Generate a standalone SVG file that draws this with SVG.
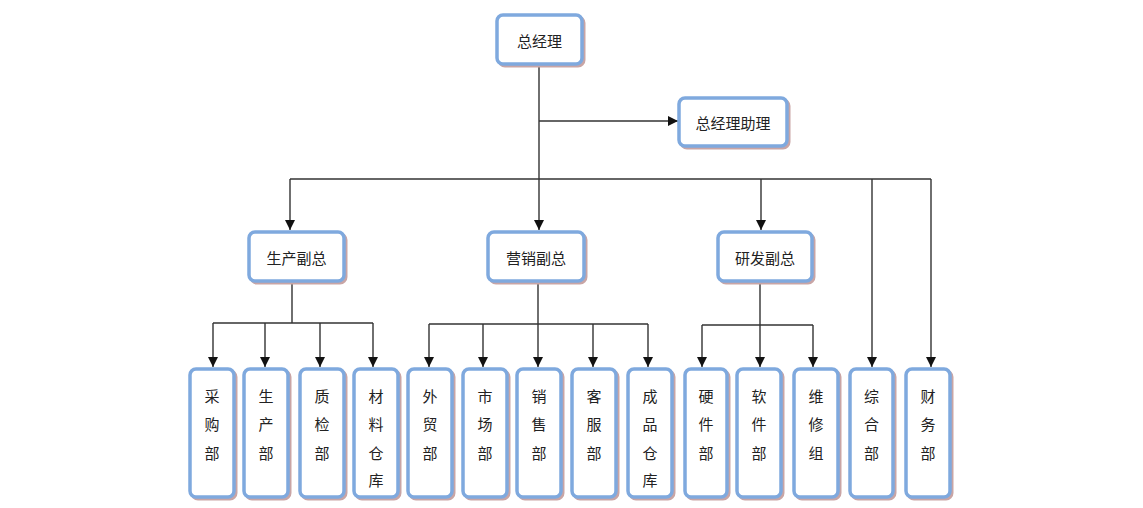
<svg xmlns="http://www.w3.org/2000/svg" width="1143" height="508" viewBox="0 0 1143 508">
<style>
.sh{fill:#c9a5a5;stroke:#c9a5a5;stroke-width:3}
.bx{fill:#ffffff;stroke:#7fa9de;stroke-width:3.5}
.t{font-family:"Noto Sans CJK SC","Noto Sans",sans-serif;font-size:15px;fill:#222;text-anchor:middle;dominant-baseline:central}
.ln{fill:none;stroke:#333;stroke-width:1.4}
</style>
<defs>
<marker id="ar" viewBox="0 0 10 10" refX="10" refY="5" markerWidth="10" markerHeight="10" markerUnits="userSpaceOnUse" orient="auto">
<path d="M0,0 L10,5 L0,10 z" fill="#111"/>
</marker>
</defs>
<g id="connectors">
<path class="ln" d="M539,64 V230" marker-end="url(#ar)"/>
<path class="ln" d="M539,121 H678" marker-end="url(#ar)"/>
<path class="ln" d="M290,179 H931"/>
<path class="ln" d="M290,179 V230" marker-end="url(#ar)"/>
<path class="ln" d="M761,179 V230" marker-end="url(#ar)"/>
<path class="ln" d="M872,179 V367" marker-end="url(#ar)"/>
<path class="ln" d="M931,179 V367" marker-end="url(#ar)"/>
<path class="ln" d="M292,283 V323"/>
<path class="ln" d="M213,323 H373"/>
<path class="ln" d="M213,323 V367" marker-end="url(#ar)"/>
<path class="ln" d="M265,323 V367" marker-end="url(#ar)"/>
<path class="ln" d="M320,323 V367" marker-end="url(#ar)"/>
<path class="ln" d="M373,323 V367" marker-end="url(#ar)"/>
<path class="ln" d="M538,283 V367" marker-end="url(#ar)"/>
<path class="ln" d="M429,324 H648"/>
<path class="ln" d="M429,324 V367" marker-end="url(#ar)"/>
<path class="ln" d="M483,324 V367" marker-end="url(#ar)"/>
<path class="ln" d="M593,324 V367" marker-end="url(#ar)"/>
<path class="ln" d="M648,324 V367" marker-end="url(#ar)"/>
<path class="ln" d="M760,283 V367" marker-end="url(#ar)"/>
<path class="ln" d="M702,325 H813"/>
<path class="ln" d="M702,325 V367" marker-end="url(#ar)"/>
<path class="ln" d="M813,325 V367" marker-end="url(#ar)"/>
</g>
<g id="n_zjl"><rect class="sh" x="499" y="17" width="85" height="49" rx="6"/><rect class="bx" x="497" y="15" width="85" height="49" rx="6"/><text class="t" x="539.5" y="40">总经理</text></g>
<g id="n_zl"><rect class="sh" x="681" y="100" width="108" height="48" rx="6"/><rect class="bx" x="679" y="98" width="108" height="48" rx="6"/><text class="t" x="733" y="122">总经理助理</text></g>
<g id="n_sc"><rect class="sh" x="251" y="234" width="95" height="49" rx="6"/><rect class="bx" x="249" y="232" width="95" height="49" rx="6"/><text class="t" x="296.5" y="257">生产副总</text></g>
<g id="n_yx"><rect class="sh" x="490" y="234" width="96" height="49" rx="6"/><rect class="bx" x="488" y="232" width="96" height="49" rx="6"/><text class="t" x="536" y="257">营销副总</text></g>
<g id="n_yf"><rect class="sh" x="720" y="234" width="94" height="49" rx="6"/><rect class="bx" x="718" y="232" width="94" height="49" rx="6"/><text class="t" x="765" y="257">研发副总</text></g>
<g id="n_cg"><rect class="sh" x="192" y="371" width="44" height="128" rx="6"/><rect class="bx" x="190" y="369" width="44" height="128" rx="6"/><text class="t" x="212" y="395">采</text><text class="t" x="212" y="423">购</text><text class="t" x="212" y="452">部</text></g>
<g id="n_scb"><rect class="sh" x="246" y="371" width="44" height="128" rx="6"/><rect class="bx" x="244" y="369" width="44" height="128" rx="6"/><text class="t" x="266" y="395">生</text><text class="t" x="266" y="423">产</text><text class="t" x="266" y="452">部</text></g>
<g id="n_zj"><rect class="sh" x="302" y="371" width="44" height="128" rx="6"/><rect class="bx" x="300" y="369" width="44" height="128" rx="6"/><text class="t" x="322" y="395">质</text><text class="t" x="322" y="423">检</text><text class="t" x="322" y="452">部</text></g>
<g id="n_cl"><rect class="sh" x="356" y="371" width="44" height="128" rx="6"/><rect class="bx" x="354" y="369" width="44" height="128" rx="6"/><text class="t" x="376" y="395">材</text><text class="t" x="376" y="423">料</text><text class="t" x="376" y="452">仓</text><text class="t" x="376" y="479">库</text></g>
<g id="n_wm"><rect class="sh" x="410" y="371" width="44" height="128" rx="6"/><rect class="bx" x="408" y="369" width="44" height="128" rx="6"/><text class="t" x="430" y="395">外</text><text class="t" x="430" y="423">贸</text><text class="t" x="430" y="452">部</text></g>
<g id="n_sch"><rect class="sh" x="465" y="371" width="44" height="128" rx="6"/><rect class="bx" x="463" y="369" width="44" height="128" rx="6"/><text class="t" x="485" y="395">市</text><text class="t" x="485" y="423">场</text><text class="t" x="485" y="452">部</text></g>
<g id="n_xs"><rect class="sh" x="519" y="371" width="44" height="128" rx="6"/><rect class="bx" x="517" y="369" width="44" height="128" rx="6"/><text class="t" x="539" y="395">销</text><text class="t" x="539" y="423">售</text><text class="t" x="539" y="452">部</text></g>
<g id="n_kf"><rect class="sh" x="574" y="371" width="44" height="128" rx="6"/><rect class="bx" x="572" y="369" width="44" height="128" rx="6"/><text class="t" x="594" y="395">客</text><text class="t" x="594" y="423">服</text><text class="t" x="594" y="452">部</text></g>
<g id="n_cp"><rect class="sh" x="630" y="371" width="44" height="128" rx="6"/><rect class="bx" x="628" y="369" width="44" height="128" rx="6"/><text class="t" x="650" y="395">成</text><text class="t" x="650" y="423">品</text><text class="t" x="650" y="452">仓</text><text class="t" x="650" y="479">库</text></g>
<g id="n_yj"><rect class="sh" x="687" y="371" width="42" height="128" rx="6"/><rect class="bx" x="685" y="369" width="42" height="128" rx="6"/><text class="t" x="706" y="395">硬</text><text class="t" x="706" y="423">件</text><text class="t" x="706" y="452">部</text></g>
<g id="n_rj"><rect class="sh" x="739" y="371" width="44" height="128" rx="6"/><rect class="bx" x="737" y="369" width="44" height="128" rx="6"/><text class="t" x="759" y="395">软</text><text class="t" x="759" y="423">件</text><text class="t" x="759" y="452">部</text></g>
<g id="n_wx"><rect class="sh" x="796" y="371" width="44" height="128" rx="6"/><rect class="bx" x="794" y="369" width="44" height="128" rx="6"/><text class="t" x="816" y="395">维</text><text class="t" x="816" y="423">修</text><text class="t" x="816" y="452">组</text></g>
<g id="n_zh"><rect class="sh" x="852" y="371" width="43" height="128" rx="6"/><rect class="bx" x="850" y="369" width="43" height="128" rx="6"/><text class="t" x="871.5" y="395">综</text><text class="t" x="871.5" y="423">合</text><text class="t" x="871.5" y="452">部</text></g>
<g id="n_cw"><rect class="sh" x="908" y="371" width="44" height="128" rx="6"/><rect class="bx" x="906" y="369" width="44" height="128" rx="6"/><text class="t" x="928" y="395">财</text><text class="t" x="928" y="423">务</text><text class="t" x="928" y="452">部</text></g>
</svg>
